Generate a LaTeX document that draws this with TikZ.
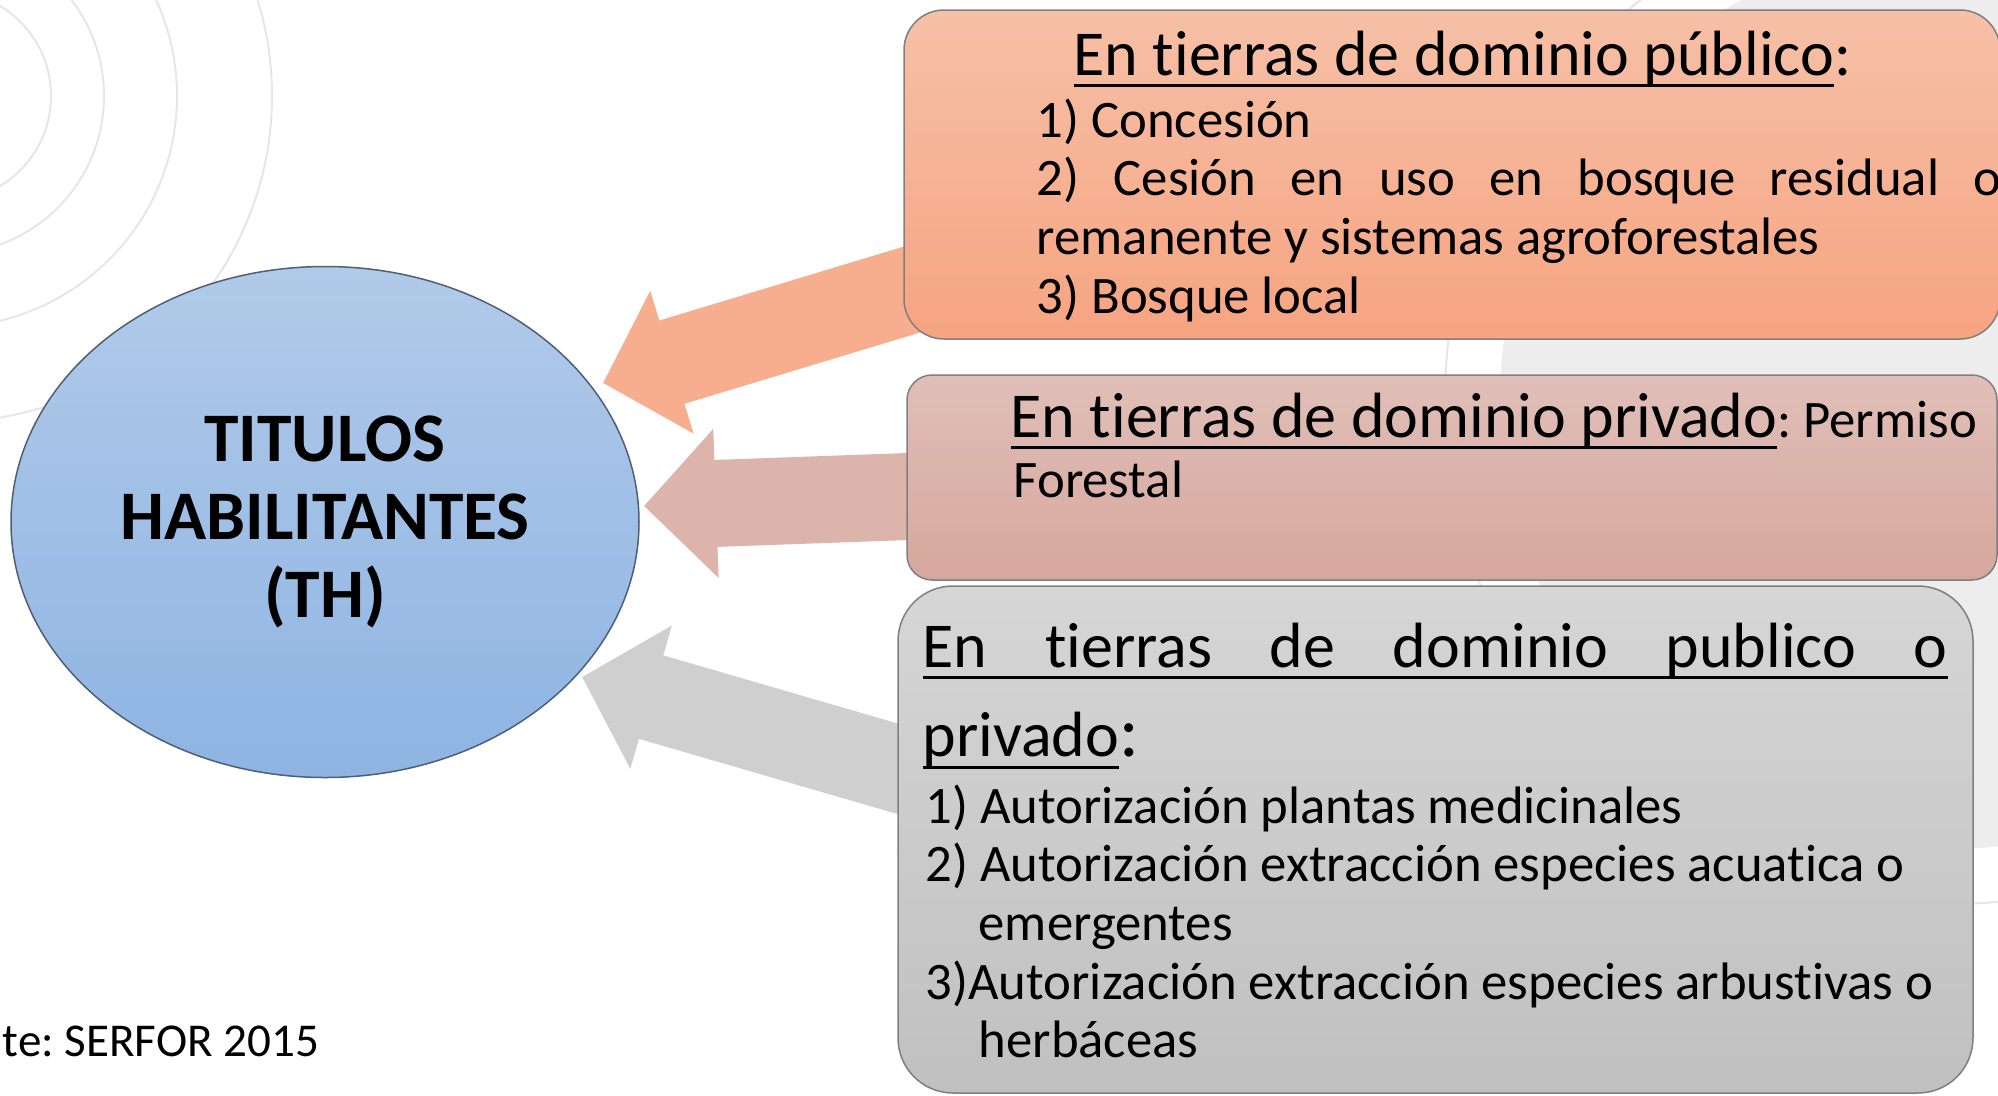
\documentclass[tikz,border=0pt]{standalone}
\usepackage{fontspec}
\setmainfont{Carlito}[Ligatures=NoCommon]
\usetikzlibrary{shapes.geometric,arrows.meta,positioning}

\definecolor{thTop}{HTML}{B1CAE9}
\definecolor{thBot}{HTML}{8EB4E3}
\definecolor{thLine}{HTML}{4F5F73}
\definecolor{pubTop}{HTML}{F6C0A7}
\definecolor{pubBot}{HTML}{F6A481}
\definecolor{privTop}{HTML}{E0BFB8}
\definecolor{privBot}{HTML}{D6A79D}
\definecolor{mixTop}{HTML}{D6D6D6}
\definecolor{mixBot}{HTML}{C0C0C0}
\definecolor{boxLine}{HTML}{7F7F7F}
\definecolor{arrPub}{HTML}{F6AE8E}
\definecolor{arrPriv}{HTML}{DCB4AC}
\definecolor{arrMix}{HTML}{CFCFCF}
\definecolor{bgDisk}{HTML}{EDEDED}
\definecolor{bgRing}{HTML}{E6E6E6}

\newcommand{\itemFont}{\fontsize{15pt}{16.7pt}\selectfont}
\newcommand{\headFont}{\fontsize{18.2pt}{25.6pt}\selectfont}
\newsavebox{\ulBox}
\newcommand{\uLine}[1]{\leavevmode\sbox{\ulBox}{#1}\rlap{\rule[-3.5pt]{\wd\ulBox}{0.85pt}}\usebox{\ulBox}}

\tikzstyle{thEllipse} = [ellipse, draw=thLine, line width=0.15mm, top color=thTop, bottom color=thBot, minimum width=62.8mm, minimum height=51.1mm, inner sep=0pt, align=center, font={\fontsize{19.8pt}{22.2pt}\selectfont\bfseries}]
\tikzstyle{roundBox} = [rectangle, draw=boxLine, line width=0.15mm]
\tikzstyle{pubBox} = [roundBox, top color=pubTop, bottom color=pubBot, minimum width=109.6mm, minimum height=32.9mm, rounded corners=4mm]
\tikzstyle{privBox} = [roundBox, top color=privTop, bottom color=privBot, minimum width=109mm, minimum height=20.5mm, rounded corners=2.5mm]
\tikzstyle{mixBox} = [roundBox, top color=mixTop, bottom color=mixBot, minimum width=107.5mm, minimum height=50.7mm, rounded corners=5.5mm]
\tikzstyle{headText} = [anchor=base west, inner sep=0pt, font=\headFont]
\tikzstyle{itemText} = [anchor=base west, inner sep=0pt, font=\itemFont]
\tikzstyle{bigArrow} = [line width=8.7mm, -{Triangle[length=7.2mm, width=14.5mm]}]
\tikzstyle{ringLine} = [draw=bgRing, line width=0.2mm]

\begin{document}
\frenchspacing
\begin{tikzpicture}[x=0.1mm, y=-0.1mm]
            \useasboundingbox (0,0) rectangle (1998,1095);
            \fill[bgDisk] (1950,399) circle[radius=45mm];
            \draw[ringLine] (1950,399) circle[radius=50.5mm];
            \foreach \r in {10.5,15.8,23.1,32.6}
                \draw[ringLine] (-54,96) circle[radius=\r mm];
            \coordinate (tip1) at (603,383);
            \coordinate (tail1) at (950,278);
            \coordinate (tip2) at (644,506);
            \coordinate (tail2) at (950,495);
            \coordinate (tip3) at (582,677);
            \coordinate (tail3) at (950,784);
            \draw[bigArrow, draw=arrPub] (tail1) -- (tip1);
            \draw[bigArrow, draw=arrPriv] (tail2) -- (tip2);
            \draw[bigArrow, draw=arrMix] (tail3) -- (tip3);
            \node[pubBox] (PUB) at (1452,174.5) {};
            \node[privBox, below of=PUB, node distance=30.3mm] (PRIV) {};
            \node[mixBox, below of=PRIV, node distance=36.2mm, xshift=-1.65mm] (MIX) {};
            \node[thEllipse, yshift=-0.6mm] (TH) at (325,516) {TITULOS\\HABILITANTES\\(TH)};
            \node[headText] (PUBt) at (1073,75) {\uLine{En tierras de dominio público}:};
            \node[itemText] (PUBi) at (1036,137) {\parbox[t]{100mm}{1) Concesión\\\makebox[96.5mm][s]{2) Cesión en uso en bosque residual o}\\remanente y sistemas agroforestales\\3) Bosque local}};
            \node[headText] (PRIVt) at (1010,437) {\uLine{En tierras de dominio privado}{\itemFont: Permiso}};
            \node[itemText] (PRIVf) at (1013,497) {Forestal};
            \node[headText] (MIXt) at (922,667) {\parbox[t]{105mm}{\uLine{\makebox[102.5mm][s]{En tierras de dominio publico o}}\\\uLine{privado}{\fontsize{21pt}{21pt}\selectfont:}}};
            \node[itemText] (MIXi) at (925,823) {\parbox[t]{105mm}{1) Autorización plantas medicinales\\2) Autorización extracción especies acuatica o\\\hspace*{5.3mm}emergentes\\3)Autorización extracción especies arbustivas o\\\hspace*{5.3mm}herbáceas}};
            \node[itemText, font={\fontsize{13.4pt}{16pt}\selectfont}] (SRC) at (2,1056) {te: SERFOR 2015};
\end{tikzpicture}
\end{document}
